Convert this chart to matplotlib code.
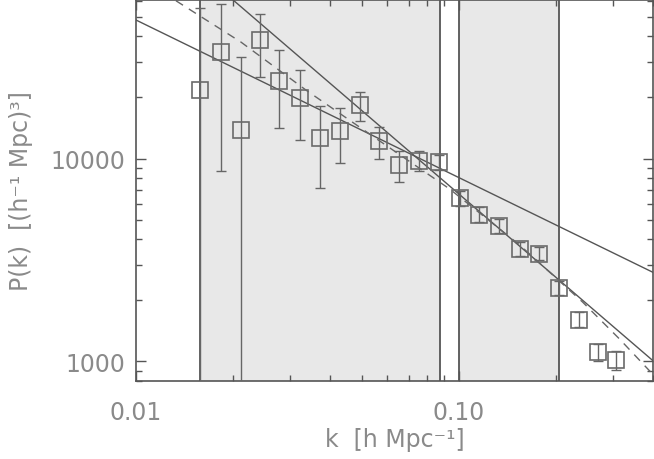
from matplotlib import pyplot as plt
from matplotlib.ticker import LogLocator, FixedLocator, NullFormatter
import numpy as np

# measured band powers
k = [0.01582, 0.01829, 0.02110, 0.02415, 0.02778, 0.03213, 0.03705, 0.04272,
     0.04927, 0.05682, 0.06535, 0.07537, 0.08690, 0.1007, 0.1159, 0.1337,
     0.1545, 0.1778, 0.2045, 0.2358, 0.2707, 0.3062]
pk = [21700, 33400, 13870, 38530, 24190, 19810, 12620, 13620,
      18420, 12160, 9289, 9754, 9579, 6363, 5284, 4630,
      3578, 3394, 2298, 1593, 1108, 1015]
pk_hi = [55030, 57800, 31660, 51760, 34170, 27320, 18210, 17680,
         21210, 14250, 10850, 10930, 10400, 6939, 5745, 5031,
         3862, 3673, 2489, 1744, 1217, 1120]
pk_lo = [1, 8706, 1, 25140, 14140, 12340, 7130, 9502,
         15360, 9943, 7631, 8648, 8808, 5853, 4847, 4277,
         3295, 3170, 2123, 1472, 1007, 909]

# fitted power laws (end points)
fit1_k = [0.01, 0.4]
fit1_p = [48200, 2747]
fit2_k = [0.0200, 0.4]
fit2_p = [60470, 1007]

# model curve (dashed)
model_k = [0.01330, 0.02114, 0.03384, 0.05694, 0.09378, 0.1545, 0.2420, 0.3151, 0.3987]
model_p = [59980, 37530, 21600, 12200, 7073, 3746, 1961, 1288, 866]

# fitting ranges
bands = [(0.01578, 0.0873), (0.1002, 0.2045)]

fig = plt.figure(figsize=(6.54, 4.60), dpi=100)
ax = fig.add_axes([136 / 654, 1 - 382 / 460, 517 / 654, 381 / 460])

for lo, hi in bands:
    ax.axvspan(lo, hi, facecolor='#e8e8e8', edgecolor='none', zorder=0)
    ax.axvline(lo, color='#555555', lw=1.3, zorder=1)
    ax.axvline(hi, color='#555555', lw=1.3, zorder=1)

ax.plot(fit1_k, fit1_p, color='#555555', lw=1.0, zorder=2)
ax.plot(fit2_k, fit2_p, color='#555555', lw=1.0, zorder=2)
ax.plot(model_k, model_p, color='#666666', lw=1.0, ls=(0, (6, 5)), zorder=2)

pk_arr = np.array(pk)
yerr = [pk_arr - np.array(pk_lo), np.array(pk_hi) - pk_arr]
ax.errorbar(k, pk, yerr=yerr, fmt='none', ecolor='#666666', elinewidth=1.0,
            capsize=3.5, capthick=1.0, zorder=3)
ax.plot(k, pk, ls='none', marker='s', ms=11.5, mfc='none', mec='#6a6a6a',
        mew=1.2, zorder=4)

ax.set_xscale('log')
ax.set_yscale('log')
ax.set_xlim(0.01, 0.4)
ax.set_ylim(800, 60500)

ax.xaxis.set_major_locator(FixedLocator([0.01, 0.1]))
ax.xaxis.set_minor_locator(LogLocator(base=10, subs=np.arange(2, 10)))
ax.xaxis.set_minor_formatter(NullFormatter())
ax.set_xticklabels(['0.01', '0.10'])
ax.yaxis.set_major_locator(FixedLocator([1000, 10000]))
ax.yaxis.set_minor_locator(LogLocator(base=10, subs=np.arange(2, 10)))
ax.yaxis.set_minor_formatter(NullFormatter())
ax.set_yticklabels(['1000', '10000'])

ax.tick_params(which='both', direction='in', top=True, right=True,
               color='#555555', labelcolor='#8a8a8a', labelsize=17)
ax.tick_params(which='major', length=7, width=1.0)
ax.tick_params(which='minor', length=4.5, width=1.0)
ax.tick_params(axis='x', which='major', pad=14)
ax.tick_params(axis='y', which='major', pad=8)
for s in ax.spines.values():
    s.set_color('#555555')
    s.set_linewidth(1.2)

ax.set_xlabel('k  [h Mpc⁻¹]', fontsize=17, color='#8a8a8a', labelpad=2)
ax.set_ylabel('P(k)  [(h⁻¹ Mpc)³]', fontsize=17, color='#8a8a8a', labelpad=12)

plt.savefig('out.png', dpi=100)
plt.close()
